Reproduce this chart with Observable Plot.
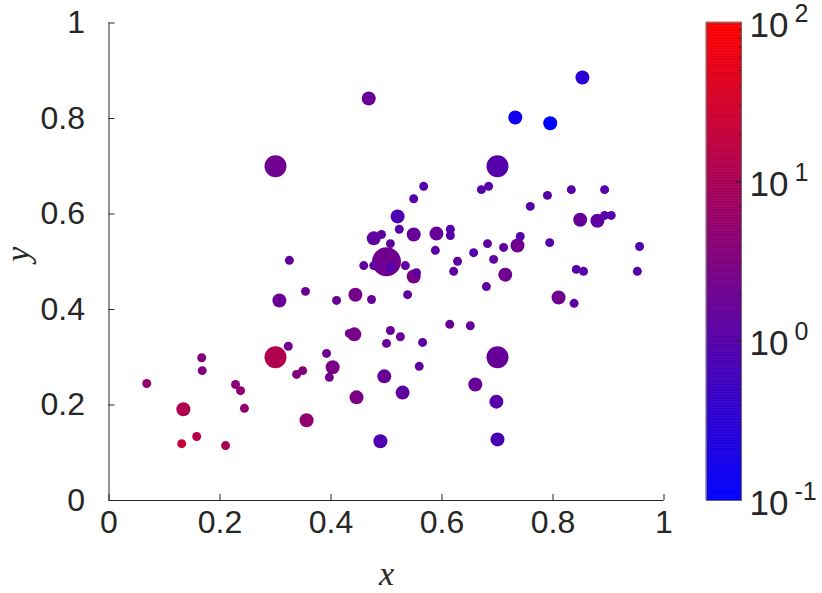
<!DOCTYPE html>
<html><head><meta charset="utf-8">
<script src="https://cdn.jsdelivr.net/npm/d3@7"></script>
<script src="https://cdn.jsdelivr.net/npm/@observablehq/plot@0.6"></script>
<style>
body{margin:0;background:#fff}
#fig{position:relative;width:822px;height:593px;overflow:hidden;background:#fff}
#fig svg{position:absolute;top:0}
</style></head><body><div id="fig"></div>
<script>
const xVals = [0.068,0.134,0.131,0.158,0.210,0.167,0.168,0.228,0.237,0.244,0.3,0.356,0.338,0.349,0.323,0.3,0.307,0.354,0.392,0.403,0.397,0.433,0.442,0.444,0.410,0.473,0.446,0.489,0.496,0.507,0.525,0.5,0.529,0.468,0.520,0.523,0.477,0.491,0.507,0.5,0.459,0.477,0.507,0.325,0.534,0.549,0.554,0.538,0.549,0.590,0.615,0.615,0.588,0.628,0.621,0.549,0.567,0.657,0.565,0.559,0.614,0.651,0.7,0.660,0.698,0.700,0.7,0.671,0.684,0.759,0.790,0.833,0.893,0.732,0.795,0.853,0.849,0.880,0.893,0.905,0.741,0.736,0.794,0.682,0.711,0.693,0.714,0.680,0.842,0.855,0.952,0.956,0.810,0.838];
const yVals = [0.245,0.191,0.119,0.134,0.115,0.299,0.272,0.243,0.230,0.193,0.3,0.168,0.264,0.272,0.323,0.7,0.419,0.438,0.308,0.279,0.258,0.350,0.348,0.431,0.419,0.421,0.216,0.124,0.260,0.356,0.343,0.329,0.226,0.842,0.595,0.568,0.549,0.557,0.538,0.5,0.492,0.492,0.488,0.503,0.492,0.469,0.477,0.431,0.557,0.559,0.568,0.555,0.524,0.501,0.480,0.632,0.658,0.519,0.331,0.281,0.369,0.366,0.3,0.243,0.207,0.128,0.7,0.651,0.658,0.616,0.639,0.651,0.651,0.802,0.790,0.886,0.588,0.586,0.597,0.597,0.553,0.534,0.540,0.538,0.530,0.505,0.473,0.448,0.484,0.480,0.480,0.532,0.425,0.413];
const sizeVals = [20,49,20,20,20,20,20,20,20,20,121,49,20,20,20,121,49,20,20,49,20,20,49,49,20,20,49,49,49,20,20,20,49,49,49,20,49,20,20,210,20,20,20,20,20,49,20,20,49,49,20,20,20,20,20,20,20,20,20,20,20,20,121,49,49,49,121,20,20,20,20,20,20,49,49,49,49,49,20,20,20,49,20,20,20,20,49,20,20,20,20,20,49,20];
const colorVals = [5,12,22,14,9,3.5,3.5,4,4.5,5.5,12,5,3.5,3.5,2,2,1.7,1.7,2,2.8,2,2.3,2.5,2.5,1.7,1.7,2.8,0.85,1.7,1.6,1.6,1.6,1.3,1.7,0.8,1,1.3,1.3,1.3,2,1.3,1.3,1.0,1.3,1.3,2.5,1.3,1.3,1.6,1.6,1,1,1.3,1.3,1.3,1,1,1,1.3,1.3,1.6,1.6,1.6,1.6,1,0.7,1,1,1,1,1,1,1,0.15,0.1,0.3,1.6,1.3,1,1,1,2,1,1.3,1.3,1.3,2,1.3,1,1,1,0.9,2,1.3];
const axisTicks = [0,0.2,0.4,0.6,0.8,1];
const cbarTicks = [0.1,1,10,100];
const cbarExponents = ["-1","0","1","2"];

const points = xVals.map((x,i)=>({x, y:yVals[i], s:sizeVals[i], c:colorVals[i]}))
  .sort((a,b)=>b.s-a.s);

const FONT = '"Liberation Sans", Helvetica, Arial, sans-serif';
const SERIF = '"Liberation Serif", "DejaVu Serif", serif';
const INK = "#262626";
const colorScale = {type:"log", domain:[0.1,100], range:["#0000ff","#ff0000"], interpolate:"rgb"};

const main = Plot.plot({
  width: 700, height: 593,
  marginLeft: 108.5, marginRight: 36.5, marginTop: 22.5, marginBottom: 93,
  style: {fontFamily: FONT, color: INK, background: "transparent"},
  x: {domain:[0,1]},
  y: {domain:[0,1]},
  r: {type:"sqrt", domain:[0,196], range:[0,14]},
  color: colorScale,
  marks: [
    Plot.dot(points, {x:"x", y:"y", r:"s", fill:"c", stroke:"none"}),
    Plot.ruleX([0], {stroke: INK}),
    Plot.ruleY([0], {stroke: INK}),
    Plot.axisX({ticks: axisTicks, tickFormat: d=>String(d), tickSize: 6, dy: -6, tickPadding: 10, fontSize: 32, label: null, stroke: INK, fill: INK}),
    Plot.axisY({ticks: axisTicks, tickFormat: d=>String(d), tickSize: 6, dx: 6, tickPadding: 24, fontSize: 32, label: null, stroke: INK, fill: INK}),
    Plot.text(["x"], {frameAnchor:"bottom", dy: 84, fontSize: 34, fontStyle:"italic", fontFamily: SERIF, fill: INK}),
    Plot.text(["y"], {frameAnchor:"left", dx: -91, rotate: -90, fontSize: 34, fontStyle:"italic", fontFamily: SERIF, fill: INK})
  ]
});
main.style.left = "0px";

const logScale = d3.scaleLog().domain([0.1,100]);
const minorTicks = logScale.ticks();
const steps = d3.range(0, 301).map(i => logScale.invert(i/300));
const bands = steps.slice(0,-1).map((v,i)=>({lo:v, hi:steps[i+1], mid: Math.sqrt(v*steps[i+1])}));

const cbar = Plot.plot({
  width: 142, height: 593,
  marginLeft: 26, marginRight: 81, marginTop: 22, marginBottom: 93,
  style: {fontFamily: FONT, color: INK, background: "transparent"},
  x: {domain:[0,1], axis: null},
  y: {type:"log", domain:[0.1,100], axis: null},
  color: colorScale,
  marks: [
    Plot.rect(bands, {y1:"lo", y2:"hi", fill:"mid", stroke:"mid", strokeWidth: 0.6}),
    Plot.axisY({anchor:"right", ticks: minorTicks, tickSize: 3.5, dx: -3.5, fill:"none", stroke: INK, strokeWidth: 0.8, label: null}),
    Plot.axisY({anchor:"right", ticks: cbarTicks, tickSize: 6, dx: -6, fill:"none", stroke: INK, label: null}),
    Plot.frame({stroke: "#6a6a6a", strokeWidth: 1}),
    Plot.text(cbarTicks, {y: d=>d, text: ()=>"10", frameAnchor:"right", textAnchor:"start", dx: 8, dy: 3, fontSize: 35, fill: INK}),
    Plot.text(cbarTicks, {y: d=>d, text: (d,i)=>cbarExponents[i], frameAnchor:"right", textAnchor:"start", dx: 53, dy: -9, fontSize: 25, fill: INK})
  ]
});
cbar.style.left = "680px";

const fig = document.getElementById("fig");
fig.appendChild(main);
fig.appendChild(cbar);
</script></body></html>
